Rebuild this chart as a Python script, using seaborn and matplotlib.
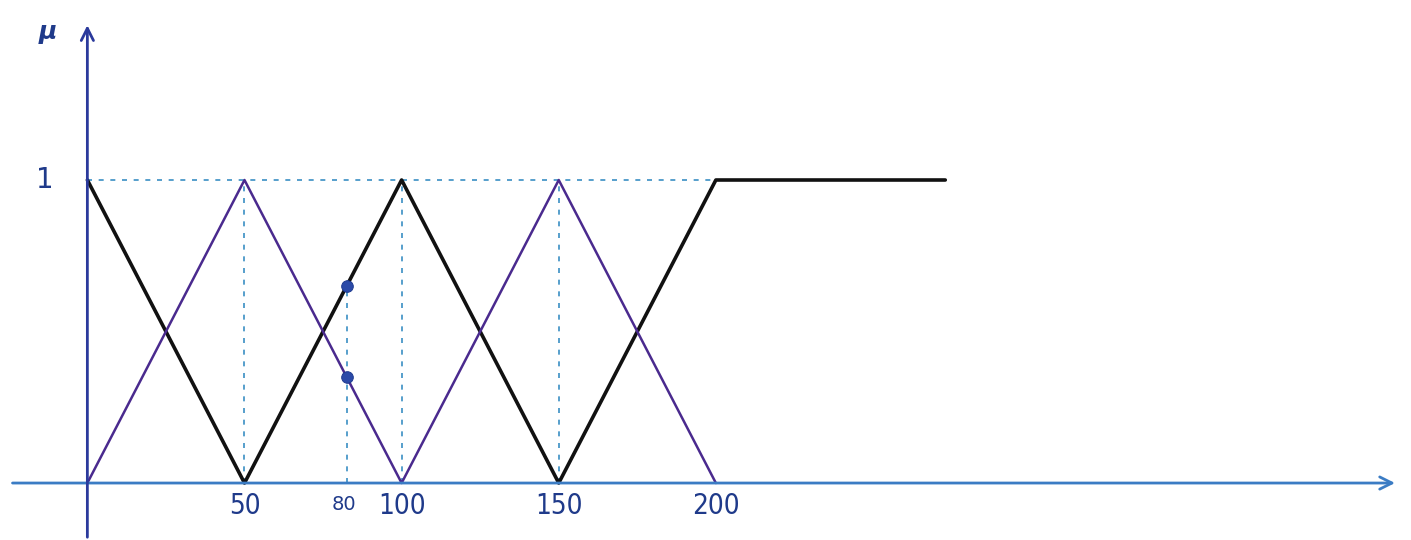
import numpy as np
import pandas as pd
import matplotlib
matplotlib.use("Agg")
import matplotlib.pyplot as plt
import seaborn as sns

## ---------------------------------------------------------------------------
## Data: breakpoints of the membership functions
## ---------------------------------------------------------------------------
black_x  = [0, 50, 100, 150, 200, 273]
black_mu = [1, 0, 1, 0, 1, 1]
purple_x  = [0, 50, 100, 150, 200]
purple_mu = [0, 1, 0, 1, 0]

peaks_x    = [50, 100, 150]          # vertical dashed guides up to mu = 1
tick_x     = [50, 100, 150, 200]
tick_text  = ["50", "100", "150", "200"]
point_x    = 82.5                     # drawn position of the "80" input
point_text = "80"

black_df  = pd.DataFrame({"x": black_x, "mu": black_mu})
purple_df = pd.DataFrame({"x": purple_x, "mu": purple_mu})

## membership degrees at the input point
pt_mu = [np.interp(point_x, black_x, black_mu), np.interp(point_x, purple_x, purple_mu)]
pts_df = pd.DataFrame({"x": [point_x, point_x], "mu": pt_mu})

## ---------------------------------------------------------------------------
## Figure
## ---------------------------------------------------------------------------
sns.set_style("white")
fig = plt.figure(figsize=(14.11, 5.4), dpi=100)
ax = fig.add_axes([0, 0, 1, 1])
ax.set_xlim(-27.8, 421.2)
ax.set_ylim(-0.188, 1.594)
ax.axis("off")

axis_y_col = "#2b3a9c"
axis_x_col = "#3b7cc4"
dash_col   = "#3a8fc4"
text_col   = "#1f3a8a"

## axes with arrow heads
ax.annotate("", xy=(417, 0), xytext=(-24.7, 0),
            arrowprops=dict(arrowstyle="->", color=axis_x_col, lw=2,
                            mutation_scale=22))
ax.annotate("", xy=(0, 1.52), xytext=(0, -0.188),
            arrowprops=dict(arrowstyle="->", color=axis_y_col, lw=2,
                            mutation_scale=22))

## dashed guides
ax.plot([0, 200], [1, 1], ls=(0, (3, 4)), color=dash_col, lw=1.2)
for px in peaks_x:
    ax.plot([px, px], [0, 1], ls=(0, (3, 4)), color=dash_col, lw=1.2)
ax.plot([point_x, point_x], [0, max(pt_mu)], ls=(0, (3, 4)), color=dash_col, lw=1.2)

## membership functions
sns.lineplot(data=black_df, x="x", y="mu", sort=False, color="#111111",
             lw=2.6, ax=ax)
sns.lineplot(data=purple_df, x="x", y="mu", sort=False, color="#4a2a8e",
             lw=1.8, ax=ax)
sns.scatterplot(data=pts_df, x="x", y="mu", color="#2b4aa8", s=70,
                edgecolor="#1d3a8f", zorder=5, ax=ax)
ax.axis("off")

## labels
for tx, tt in zip(tick_x, tick_text):
    ax.text(tx, -0.03, tt, ha="center", va="top", fontsize=20, color=text_col,
            fontstretch="condensed")
ax.text(point_x - 1, -0.04, point_text, ha="center", va="top", fontsize=14,
        color=text_col)
ax.text(-13.5, 1.0, "1", ha="center", va="center", fontsize=20, color=text_col)
ax.text(-12.5, 1.49, "μ", ha="center", va="center", fontsize=18,
        color=text_col, style="italic", fontweight="bold")

fig.savefig("out.png", dpi=100)
